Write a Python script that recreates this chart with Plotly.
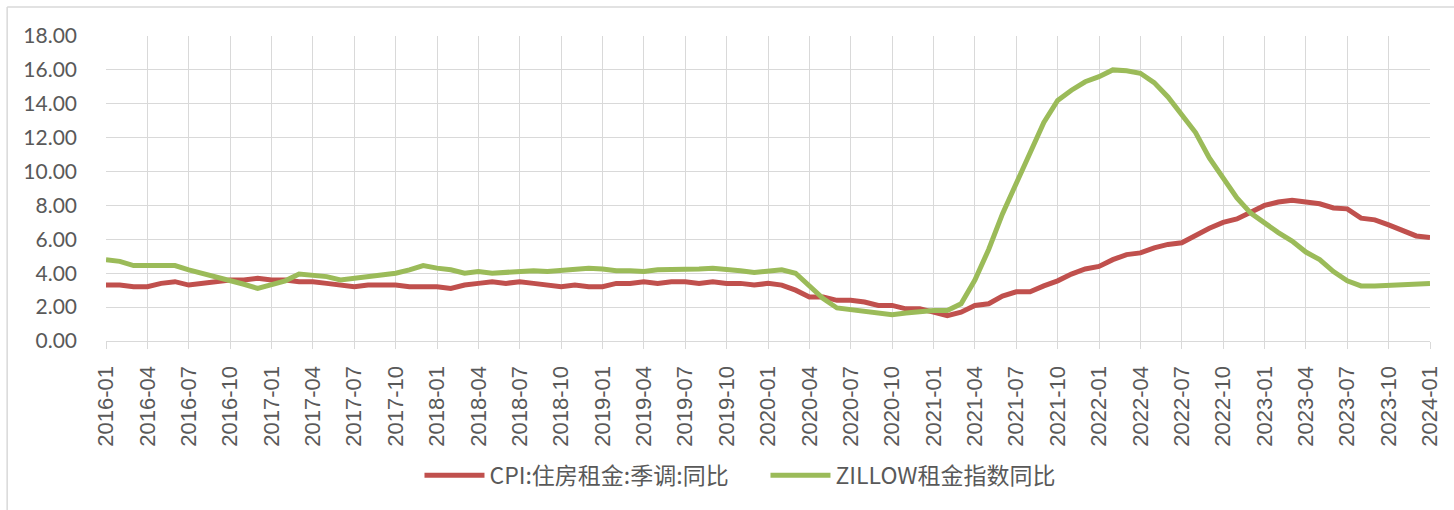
import plotly.graph_objects as go

months = [f"{y}-{m:02d}" for y in range(2016, 2024) for m in range(1, 13)] + ["2024-01"]

cpi_rent = [
    3.3, 3.3, 3.2, 3.2, 3.4, 3.5, 3.3, 3.4, 3.5, 3.6, 3.6, 3.7,
    3.6, 3.6, 3.5, 3.5, 3.4, 3.3, 3.2, 3.3, 3.3, 3.3, 3.2, 3.2,
    3.2, 3.1, 3.3, 3.4, 3.5, 3.4, 3.5, 3.4, 3.3, 3.2, 3.3, 3.2,
    3.2, 3.4, 3.4, 3.5, 3.4, 3.5, 3.5, 3.4, 3.5, 3.4, 3.4, 3.3,
    3.4, 3.3, 3.0, 2.6, 2.6, 2.4, 2.4, 2.3, 2.1, 2.1, 1.9, 1.9,
    1.7, 1.5, 1.7, 2.1, 2.2, 2.65, 2.9, 2.9, 3.25, 3.55, 3.95, 4.25,
    4.4, 4.8, 5.1, 5.2, 5.5, 5.7, 5.8, 6.25, 6.65, 7.0, 7.2, 7.6,
    8.0, 8.2, 8.3, 8.2, 8.1, 7.85, 7.8, 7.25, 7.15, 6.85, 6.5, 6.2,
    6.1,
]

zillow_rent = [
    4.8, 4.7, 4.45, 4.45, 4.4, 4.45, 4.2, 4.0, 3.8, 3.6, 3.35, 3.1,
    3.3, 3.55, 3.95, 3.85, 3.8, 3.6, 3.7, 3.75, 3.85, 4.0, 4.2, 4.45,
    4.3, 4.2, 4.0, 4.1, 4.0, 4.05, 4.05, 4.15, 4.1, 4.15, 4.2, 4.3,
    4.25, 4.15, 4.15, 4.1, 4.2, 4.2, 4.25, 4.25, 4.3, 4.25, 4.15, 4.05,
    4.1, 4.2, 4.0, 3.2, 2.5, 1.95, 1.85, 1.75, 1.6, 1.55, 1.65, 1.75,
    1.8, 1.8, 2.2, 3.6, 5.4, 7.5, 9.3, 11.1, 12.9, 14.2, 14.8, 15.3,
    15.6, 16.0, 15.95, 15.8, 15.25, 14.4, 13.3, 12.3, 10.8, 9.6, 8.45, 7.55,
    6.95, 6.4, 5.9, 5.25, 4.8, 4.1, 3.55, 3.25, 3.25, 3.3, 3.35, 3.35,
    3.4,
]

tick_months = months[::3]
y_ticks = [0, 2, 4, 6, 8, 10, 12, 14, 16, 18]

series_names = ["CPI:住房租金:季调:同比", "ZILLOW租金指数同比"]
series_colors = ["#C0504D", "#9BBB59"]

fig = go.Figure()
for name, vals, col in zip(series_names, [cpi_rent, zillow_rent], series_colors):
    fig.add_trace(go.Scatter(
        x=months, y=vals, name=name, mode="lines",
        line=dict(color=col, width=5),
    ))

grid = "#D9D9D9"
fig.update_layout(
    width=1454, height=510,
    margin=dict(l=106, r=22, t=36, b=169),
    paper_bgcolor="white", plot_bgcolor="white",
    font=dict(family="Lato, 'Noto Sans CJK SC'", color="#595959"),
    showlegend=True,
    legend=dict(
        orientation="h", x=0.4981, xanchor="center", y=-0.44, yanchor="middle",
        font=dict(family="'Noto Sans CJK SC'", size=23, color="#595959"),
        itemwidth=60, entrywidth=271, bgcolor="rgba(0,0,0,0)",
    ),
    xaxis=dict(
        type="category", range=[0, len(months) - 1],
        tickmode="array", tickvals=tick_months, ticktext=tick_months,
        tickangle=-90, ticks="outside", ticklen=7, tickcolor=grid, tickwidth=1.3,
        showgrid=True, gridcolor=grid, gridwidth=1.3,
        showline=True, linecolor=grid, linewidth=1.3,
        tickfont=dict(family="'Liberation Sans', Arial", size=22, color="#595959"),
        ticklabelstandoff=8, zeroline=False,
    ),
    yaxis=dict(
        range=[0, 18], tickmode="array", tickvals=y_ticks,
        ticktext=[f"{v:.2f}" for v in y_ticks],
        showgrid=True, gridcolor=grid, gridwidth=1.3, zeroline=False,
        showline=False, ticks="", ticklabelstandoff=28,
        tickfont=dict(family="Lato", size=21, color="#595959"),
    ),
)

# outer chart frame (only top and left edges visible in the reference)
fig.add_shape(type="line", xref="paper", yref="paper",
              x0=(7 - 106) / 1326, x1=1.02, y0=(341 - 7) / 305, y1=(341 - 7) / 305,
              line=dict(color=grid, width=1.5))
fig.add_shape(type="line", xref="paper", yref="paper",
              x0=(7 - 106) / 1326, x1=(7 - 106) / 1326, y0=(341 - 7) / 305, y1=-0.6,
              line=dict(color=grid, width=1.5))

fig.write_html("out.html", config={"displayModeBar": False},
               post_script="document.body.style.margin='0';")
